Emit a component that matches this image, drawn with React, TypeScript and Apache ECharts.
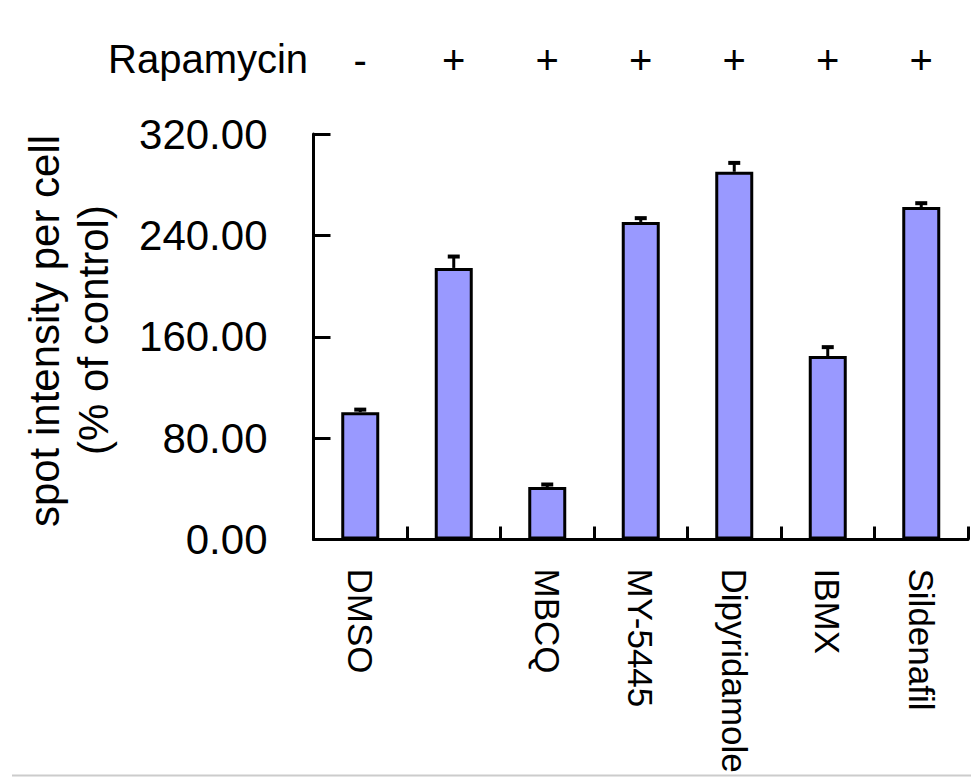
import React, { useEffect, useRef } from "react";
import * as echarts from "echarts";

const categories = ["DMSO", "", "MBCQ", "MY-5445", "Dipyridamole", "IBMX", "Sildenafil"];
const rapamycin = ["-", "+", "+", "+", "+", "+", "+"];
const values = [100.5, 214.3, 41.4, 250.6, 290.2, 144.8, 262.4];
const errors = [2, 9, 2, 3, 7, 7, 3];
const yTicks = { min: 0, max: 320, interval: 80 };
const yTitle = ["spot intensity per cell", "(% of control)"];
const topLabel = "Rapamycin";

const FONT = '"Liberation Sans", Arial, sans-serif';

export default function App() {
  const ref = useRef<HTMLDivElement>(null);
  useEffect(() => {
    if (!ref.current) return;
    const chart = echarts.init(ref.current, null, { renderer: "svg" });
    const errData = values.map((v, i) => [i, v, v + errors[i]]);
    chart.setOption({
      animation: false,
      backgroundColor: "#ffffff",
      textStyle: { fontFamily: FONT },
      grid: { left: 313.5, right: 3, top: 134, bottom: 237.5, containLabel: false },
      xAxis: [
        {
          type: "category",
          data: categories,
          position: "bottom",
          axisLine: { show: true, lineStyle: { color: "#000", width: 3 } },
          axisTick: { show: true, inside: true, length: 13, lineStyle: { color: "#000", width: 3 } },
          axisLabel: {
            rotate: -90,
            margin: 29,
            fontSize: 35,
            color: "#000",
            fontFamily: FONT,
            interval: 0,
          },
          splitLine: { show: false },
        },
        {
          type: "category",
          data: rapamycin,
          position: "top",
          axisLine: { show: false },
          axisTick: { show: false },
          axisLabel: { margin: 54, fontSize: 40, color: "#000", fontFamily: FONT, interval: 0 },
          splitLine: { show: false },
        },
      ],
      yAxis: {
        type: "value",
        min: yTicks.min,
        max: yTicks.max,
        interval: yTicks.interval,
        axisLine: { show: true, lineStyle: { color: "#000", width: 3 } },
        axisTick: { show: true, inside: true, length: 17, lineStyle: { color: "#000", width: 3 } },
        axisLabel: {
          margin: 46,
          fontSize: 42,
          color: "#000",
          fontFamily: FONT,
          formatter: (v: number) => v.toFixed(2),
        },
        splitLine: { show: false },
      },
      series: [
        {
          type: "bar",
          data: values,
          barWidth: 38,
          itemStyle: { color: "#9999FF", borderColor: "#000", borderWidth: 3 },
          z: 2,
        },
        {
          type: "custom",
          data: errData,
          z: 3,
          renderItem: (params: any, api: any) => {
            const x = api.value(0);
            const base = api.coord([x, api.value(1)]);
            const top = api.coord([x, api.value(2)]);
            const cx = base[0];
            return {
              type: "group",
              children: [
                {
                  type: "line",
                  shape: { x1: cx, y1: base[1], x2: cx, y2: top[1] },
                  style: { stroke: "#000", lineWidth: 3 },
                },
                {
                  type: "line",
                  shape: { x1: cx - 6, y1: top[1], x2: cx + 6, y2: top[1] },
                  style: { stroke: "#000", lineWidth: 4 },
                },
              ],
            };
          },
        },
      ],
      graphic: [
        {
          type: "text",
          x: 108,
          y: 59,
          style: {
            text: topLabel,
            fontSize: 40,
            fontFamily: FONT,
            fill: "#000",
            textAlign: "left",
            textVerticalAlign: "middle",
          },
        },
        {
          type: "text",
          x: 44,
          y: 331,
          rotation: Math.PI / 2,
          style: {
            text: yTitle[0],
            fontSize: 42,
            fontFamily: FONT,
            fill: "#000",
            textAlign: "center",
            textVerticalAlign: "middle",
          },
        },
        {
          type: "text",
          x: 93,
          y: 330,
          rotation: Math.PI / 2,
          style: {
            text: yTitle[1],
            fontSize: 42,
            fontFamily: FONT,
            fill: "#000",
            textAlign: "center",
            textVerticalAlign: "middle",
          },
        },
        {
          type: "line",
          shape: { x1: 12, y1: 775.5, x2: 971, y2: 775.5 },
          style: { stroke: "#cccccc", lineWidth: 2 },
        },
      ],
    });
    return () => chart.dispose();
  }, []);
  return (
    <div
      ref={ref}
      style={{ position: "fixed", left: 0, top: 0, width: 971, height: 777, background: "#fff" }}
    />
  );
}
